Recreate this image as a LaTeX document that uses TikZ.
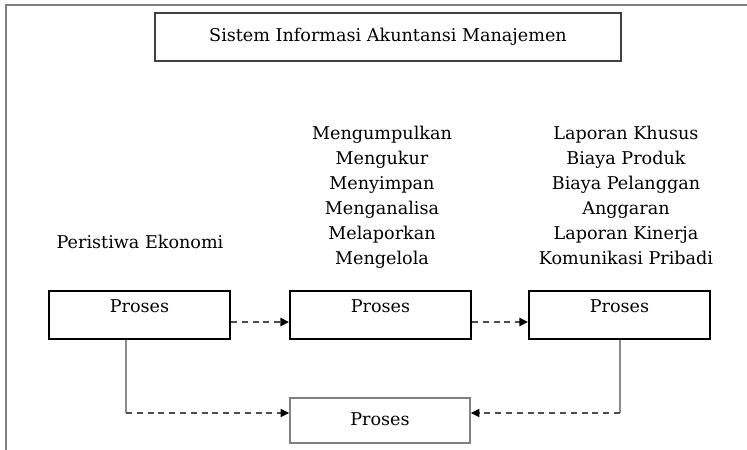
\documentclass[tikz,border=0pt]{standalone}
\usepackage{fontspec}
\setmainfont{DejaVu Serif}
\usetikzlibrary{arrows.meta}
\begin{document}
\begin{tikzpicture}[x=0.75pt,y=-0.75pt,
  font=\fontsize{13.2}{15.5}\selectfont,
  frameline/.style={draw=black!50, line width=1.3pt},
  titlebox/.style={draw=black!75, line width=1.1pt, minimum width=349.5pt, minimum height=36pt, inner sep=0pt},
  procbox/.style={draw=black, line width=1.1pt, minimum width=136pt, minimum height=36pt, inner sep=0pt},
  endbox/.style={draw=black!50, line width=1.2pt, minimum width=135pt, minimum height=33.75pt, inner sep=0pt},
  plain/.style={anchor=base, inner sep=0pt},
  feedline/.style={draw=black!45, line width=1.1pt},
  flowarrow/.style={draw=black!70, line width=1.5pt, dash pattern=on 4.5pt off 3.6pt,
    -{Triangle[length=6.5pt,width=6pt,black]}},
]
\useasboundingbox (0,0) rectangle (747,450);

% outer frame (top and left edges only)
\coordinate (fc) at (6,5);
\coordinate (fr) at (747,5);
\coordinate (fb) at (6,450);
\draw[frameline] (fr) -- (fc) -- (fb);

% title
\node[titlebox] (title) at (388,37) {};
\node[plain] (titletext) at (388,41.5) {Sistem Informasi Akuntansi Manajemen};

% column captions
\node[plain] (event) at (140,248) {Peristiwa Ekonomi};
\foreach \t [count=\i] in {Mengumpulkan,Mengukur,Menyimpan,Menganalisa,Melaporkan,Mengelola}
  \node[plain] (act\i) at (382,114+25*\i) {\t};
\foreach \t [count=\i] in {Laporan Khusus,Biaya Produk,Biaya Pelanggan,Anggaran,Laporan Kinerja,Komunikasi Pribadi}
  \node[plain] (out\i) at (626,114+25*\i) {\t};

% process boxes
\node[procbox] (p1) at (139.5,315) {};
\node[procbox] (p2) at (380.5,315) {};
\node[procbox] (p3) at (619.5,315) {};
\node[endbox]  (pb) at (380,420.5) {};
\node[plain] (t1) at (139.5,312.5) {Proses};
\node[plain] (t2) at (380.5,312.5) {Proses};
\node[plain] (t3) at (619.5,312.5) {Proses};
\node[plain] (tb) at (380,425.5) {Proses};

% flow between the top boxes
\draw[flowarrow] ([yshift=-5.25pt]p1.east) -- ([yshift=-5.25pt]p2.west);
\draw[flowarrow] ([yshift=-5.25pt]p2.east) -- ([yshift=-5.25pt]p3.west);

% feedback into the bottom box
\coordinate (k1) at (126,413);
\coordinate (k3) at (620,413);
\draw[feedline] (p1.south -| k1) -- (k1);
\draw[feedline] (p3.south -| k3) -- (k3);
\draw[flowarrow] (k1) -- (k1 -| pb.west);
\draw[flowarrow] (k3) -- (k3 -| pb.east);
\end{tikzpicture}
\end{document}
